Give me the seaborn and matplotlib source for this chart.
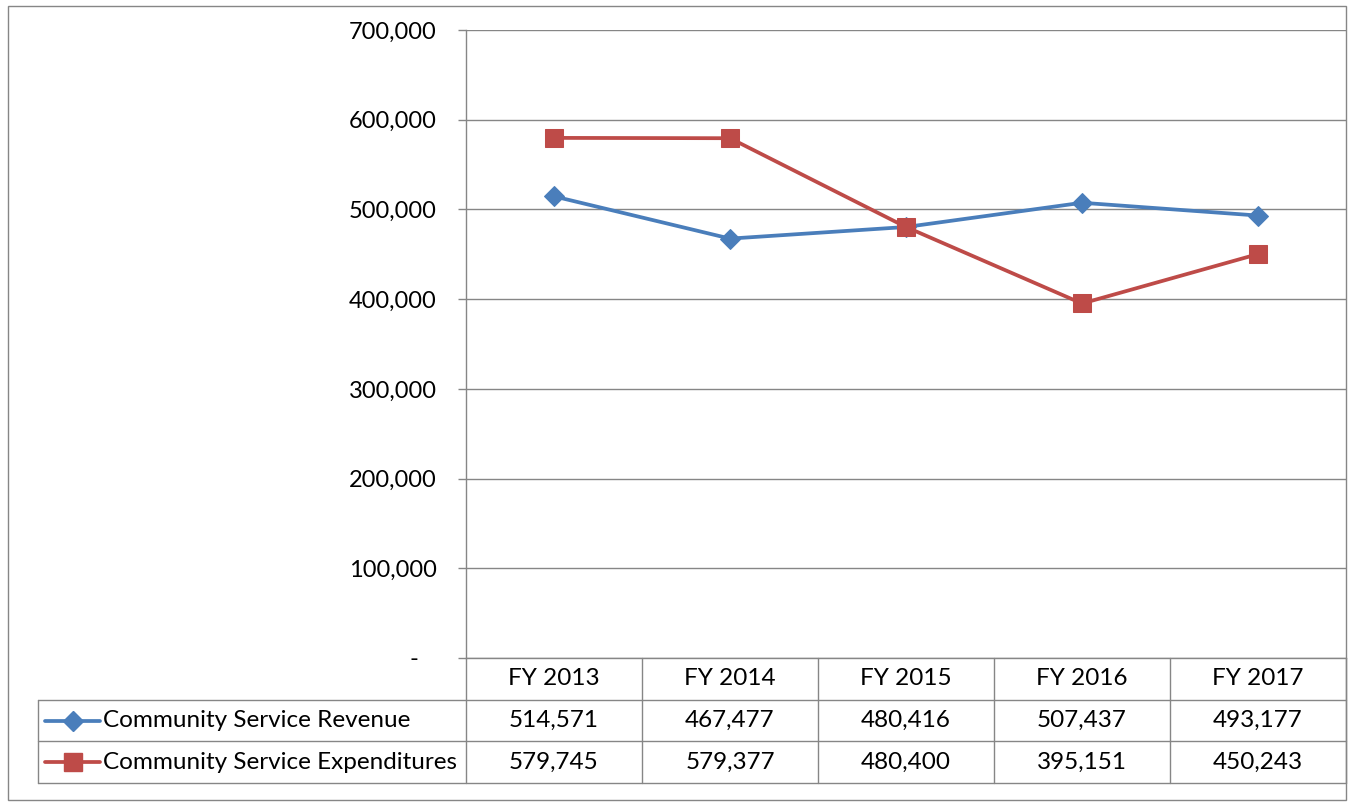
import pandas as pd
import matplotlib.pyplot as plt
import matplotlib as mpl
import seaborn as sns
from matplotlib.lines import Line2D
from matplotlib.patches import Rectangle

sns.set_style('white')
mpl.rcParams['font.family'] = ['Lato', 'DejaVu Sans']
mpl.rcParams['text.color'] = 'black'
mpl.rcParams['ytick.labelcolor'] = 'black'

years = ['FY 2013', 'FY 2014', 'FY 2015', 'FY 2016', 'FY 2017']
revenue = [514571, 467477, 480416, 507437, 493177]
expenditures = [579745, 579377, 480400, 395151, 450243]
series_names = ['Community Service Revenue', 'Community Service Expenditures']
y_ticks = [0, 100000, 200000, 300000, 400000, 500000, 600000, 700000]

colors = ['#4A7EBB', '#BE4B48']
markers = ['D', 's']
msizes = [10, 12.5]
grid_col = '#868686'

df = pd.DataFrame({'year': years * 2,
                   'value': revenue + expenditures,
                   'series': [series_names[0]] * 5 + [series_names[1]] * 5})
df['pos'] = df['year'].map({y: i for i, y in enumerate(years)})

W, H = 1351, 806
fig = plt.figure(figsize=(W / 100, H / 100), dpi=100)
fig.patch.set_facecolor('white')
fig.patches.append(Rectangle((8 / W, 6 / H), 1338 / W, 794 / H, transform=fig.transFigure,
                             fill=False, edgecolor=grid_col, linewidth=1.0))

ax = fig.add_axes([466 / W, (H - 658) / H, 880 / W, 628 / H])
for i, name in enumerate(series_names):
    sns.lineplot(data=df[df['series'] == name], x='pos', y='value', color=colors[i],
                 marker=markers[i], markersize=msizes[i], markeredgecolor=colors[i],
                 linewidth=2.7, ax=ax, legend=False, zorder=3)

ax.set_xlim(-0.5, 4.5)
ax.set_ylim(0, 700000)
ax.set_yticks(y_ticks)
ax.yaxis.set_major_formatter(mpl.ticker.FuncFormatter(
    lambda v, p: '-   ' if v == 0 else f'{v:,.0f}'))
ax.set_xticks([])
ax.set_xlabel('')
ax.set_ylabel('')
ax.grid(axis='y', color=grid_col, linewidth=1.0)
ax.grid(axis='x', visible=False)
for s in ['top', 'right']:
    ax.spines[s].set_visible(False)
for s in ['left', 'bottom']:
    ax.spines[s].set_color(grid_col)
    ax.spines[s].set_linewidth(1.0)
ax.tick_params(axis='y', which='major', length=6, width=1.0, color=grid_col,
               labelsize=17, pad=15, left=True, direction='out')

# data table under the plot
tax = fig.add_axes([466 / W, 23 / H, 880 / W, 125 / H])
tax.set_xlim(-0.5, 4.5)
tax.set_ylim(3, 0)
tax.axis('off')
px = 176.0
left_edge = -0.5 - 428 / px
lk = dict(color=grid_col, linewidth=1.0, clip_on=False)
for r in [1, 2, 3]:
    tax.add_line(Line2D([left_edge, 4.5], [r, r], **lk))
tax.add_line(Line2D([left_edge, left_edge], [1, 3], **lk))
for c in range(6):
    tax.add_line(Line2D([c - 0.5, c - 0.5], [0, 3], **lk))

fs = 17.5
for i, y in enumerate(years):
    tax.text(i, 0.5, y, ha='center', va='center', fontsize=fs)
    tax.text(i, 1.5, f'{revenue[i]:,}', ha='center', va='center', fontsize=fs)
    tax.text(i, 2.5, f'{expenditures[i]:,}', ha='center', va='center', fontsize=fs)

x0 = -0.5 - (466 - 45) / px
x1 = -0.5 - (466 - 100) / px
for i, name in enumerate(series_names):
    yy = 1.5 + i
    tax.add_line(Line2D([x0, x1], [yy, yy], color=colors[i], linewidth=2.7, clip_on=False))
    tax.add_line(Line2D([(x0 + x1) / 2], [yy], color=colors[i], marker=markers[i],
                        markersize=msizes[i], clip_on=False))
    tax.text(x1 + 3 / px, yy, name, ha='left', va='center', fontsize=fs)

plt.savefig('out.png', dpi=100)
